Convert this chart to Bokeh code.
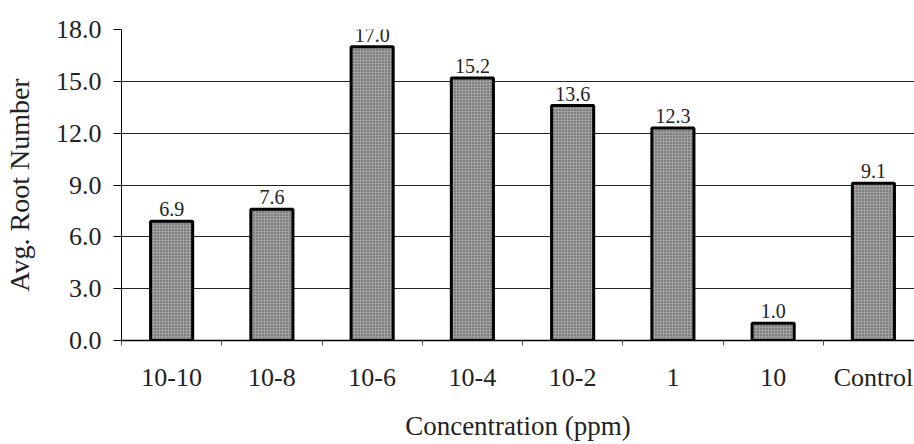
from bokeh.plotting import figure
from bokeh.models import ColumnDataSource, FixedTicker, Range1d
from bokeh.core.properties import value
from bokeh.embed import file_html
from bokeh.resources import INLINE

categories = ["10-10", "10-8", "10-6", "10-4", "10-2", "1", "10", "Control"]
root_number = [6.9, 7.6, 17.0, 15.2, 13.6, 12.3, 1.0, 9.1]
y_ticks = [0, 3, 6, 9, 12, 15, 18]

xs = [i + 0.5 for i in range(len(categories))]
labels = ["%.1f" % v for v in root_number]
src = ColumnDataSource(dict(x=xs, top=root_number, label=labels))

FONT = "Liberation Serif"

p = figure(width=914, height=444, output_backend="svg", toolbar_location=None,
           x_range=Range1d(0, 7.91), y_range=Range1d(0, 18.0),
           min_border_left=121, min_border_right=0, min_border_top=29, min_border_bottom=104)
p.outline_line_color = None
p.background_fill_color = "white"

p.vbar(x="x", top="top", width=0.42, bottom=0, source=src,
       fill_color="#a0a0a0", line_color="black", line_width=3,
       hatch_pattern="dot", hatch_color="#4a4a4a", hatch_scale=3, hatch_weight=1)

p.text(x="x", y="top", text="label", source=src, text_align="center",
       text_baseline="bottom", y_offset=-5, text_font=value(FONT),
       text_font_size="20px", text_color="#222222")

# x axis
p.xaxis.ticker = FixedTicker(ticks=xs, minor_ticks=list(range(len(categories) + 1)))
p.xaxis.major_label_overrides = {x: c for x, c in zip(xs, categories)}
p.xaxis.major_tick_out = 0
p.xaxis.major_tick_in = 0
p.xaxis.minor_tick_out = 5
p.xaxis.minor_tick_in = 0
p.xaxis.minor_tick_line_color = "#555555"
p.xaxis.axis_line_color = "black"
p.xaxis.axis_line_width = 1.5
p.xaxis.major_label_standoff = 17
p.xaxis.major_label_text_font = FONT
p.xaxis.major_label_text_font_size = "26px"
p.xaxis.major_label_text_color = "#222222"
p.xaxis.axis_label = "Concentration (ppm)"
p.xaxis.axis_label_text_font = FONT
p.xaxis.axis_label_text_font_style = "normal"
p.xaxis.axis_label_text_font_size = "27px"
p.xaxis.axis_label_text_color = "#222222"
p.xaxis.axis_label_standoff = 16

# y axis
p.yaxis.ticker = FixedTicker(ticks=y_ticks, minor_ticks=[])
p.yaxis.major_label_overrides = {t: "%.1f" % t for t in y_ticks}
p.yaxis.major_tick_out = 8
p.yaxis.major_tick_in = 0
p.yaxis.major_tick_line_color = "black"
p.yaxis.axis_line_color = "black"
p.yaxis.axis_line_width = 1
p.yaxis.major_label_standoff = 12
p.yaxis.major_label_text_font = FONT
p.yaxis.major_label_text_font_size = "26px"
p.yaxis.major_label_text_color = "#222222"
p.yaxis.axis_label = "Avg. Root Number"
p.yaxis.axis_label_text_font = FONT
p.yaxis.axis_label_text_font_style = "normal"
p.yaxis.axis_label_text_font_size = "28px"
p.yaxis.axis_label_text_color = "#222222"
p.yaxis.axis_label_standoff = 18

p.xgrid.grid_line_color = None
p.ygrid.ticker = FixedTicker(ticks=y_ticks)
p.ygrid.grid_line_color = "#222222"
p.ygrid.grid_line_width = 1.2

open("out.html", "w").write(file_html(p, INLINE))
